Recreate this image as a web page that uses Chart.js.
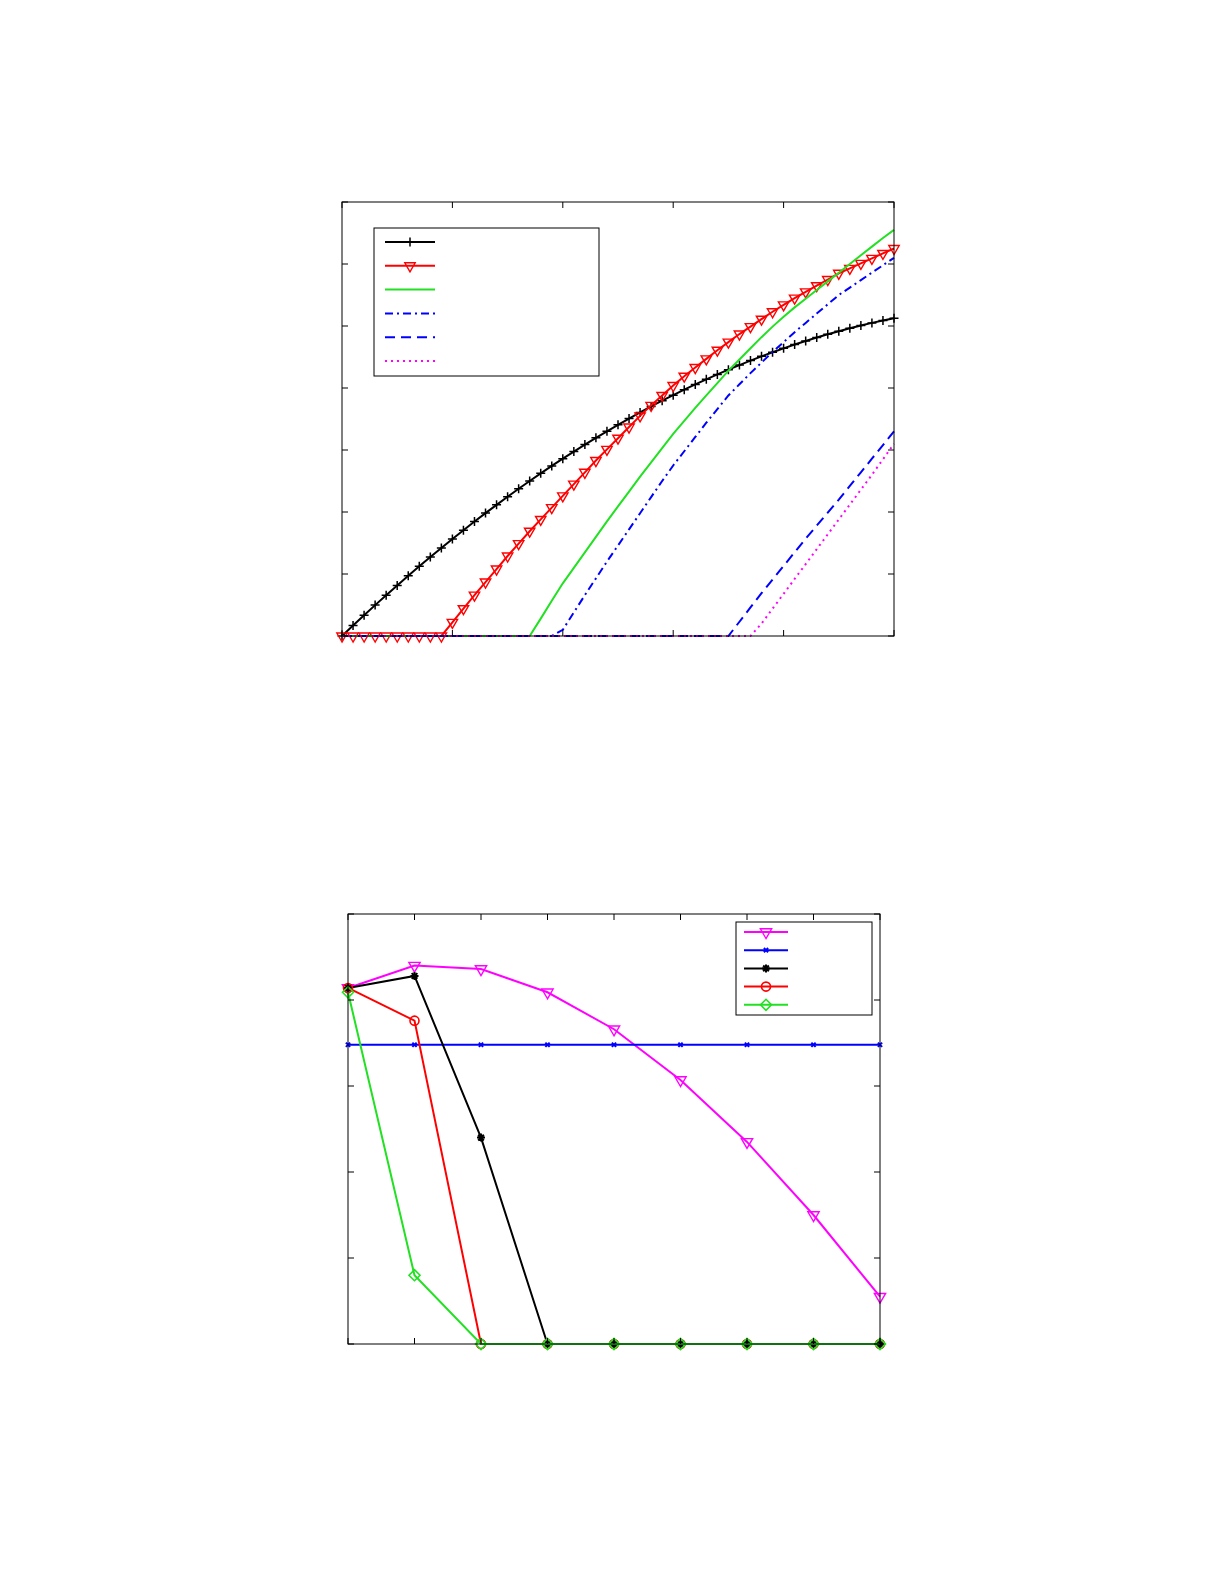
<!DOCTYPE html>
<html><head><meta charset="utf-8">
<script src="https://cdn.jsdelivr.net/npm/chart.js@4"></script>
<style>body{margin:0;background:#fff;width:1225px;height:1585px;overflow:hidden}canvas{position:absolute;left:0}</style>
</head><body>
<div style="position:absolute;left:0;top:0;width:1225px;height:790px"><canvas id="c1"></canvas></div>
<div style="position:absolute;left:0;top:790px;width:1225px;height:795px"><canvas id="c2"></canvas></div>
<script>
// ---- Chart 1 data ----
const x1 = [0,0.1,0.2,0.3,0.4,0.5,0.6,0.7,0.8,0.9,1.0,1.1,1.2,1.3,1.4,1.5,1.6,1.7,1.8,1.9,2.0,2.1,2.2,2.3,2.4,2.5,2.6,2.7,2.8,2.9,3.0,3.1,3.2,3.3,3.4,3.5,3.6,3.7,3.8,3.9,4.0,4.1,4.2,4.3,4.4,4.5,4.6,4.7,4.8,4.9,5.0];
const blackPlus = [0,0.169,0.335,0.498,0.658,0.816,0.971,1.124,1.274,1.421,1.565,1.707,1.846,1.982,2.115,2.246,2.374,2.5,2.623,2.743,2.86,2.975,3.087,3.196,3.302,3.406,3.507,3.606,3.702,3.795,3.885,3.973,4.058,4.14,4.219,4.296,4.37,4.442,4.511,4.577,4.64,4.701,4.759,4.814,4.866,4.916,4.963,5.008,5.05,5.089,5.125];
const redTri = [0,0,0,0,0,0,0,0,0,0,0.22,0.44,0.66,0.87,1.08,1.29,1.49,1.69,1.88,2.07,2.26,2.45,2.64,2.83,3.01,3.19,3.37,3.55,3.72,3.88,4.04,4.19,4.33,4.47,4.61,4.74,4.87,4.99,5.11,5.23,5.34,5.45,5.55,5.65,5.75,5.85,5.93,6.01,6.09,6.17,6.25];
const greenSolid = [0,0,0,0,0,0,0,0,0,0,0,0,0,0,0,0,0,0,0.28,0.57,0.85,1.1,1.35,1.6,1.85,2.09,2.33,2.57,2.8,3.03,3.26,3.47,3.68,3.88,4.08,4.28,4.46,4.64,4.82,4.99,5.15,5.3,5.44,5.58,5.72,5.86,6.0,6.14,6.28,6.42,6.55];
const blueDashDot = [0,0,0,0,0,0,0,0,0,0,0,0,0,0,0,0,0,0,0,0,0.1,0.38,0.66,0.93,1.2,1.46,1.72,1.98,2.24,2.5,2.75,2.98,3.21,3.44,3.66,3.88,4.06,4.24,4.41,4.58,4.74,4.9,5.05,5.2,5.35,5.5,5.62,5.74,5.86,5.98,6.1];
const blueDash = [0,0,0,0,0,0,0,0,0,0,0,0,0,0,0,0,0,0,0,0,0,0,0,0,0,0,0,0,0,0,0,0,0,0,0,0,0.23,0.46,0.69,0.91,1.13,1.35,1.57,1.78,1.99,2.2,2.42,2.64,2.86,3.08,3.3];
const magentaDot = [0,0,0,0,0,0,0,0,0,0,0,0,0,0,0,0,0,0,0,0,0,0,0,0,0,0,0,0,0,0,0,0,0,0,0,0,0,0,0.2,0.44,0.68,0.92,1.16,1.4,1.64,1.88,2.12,2.36,2.6,2.85,3.1];
const xTicks1 = [0,1,2,3,4,5];
const yTicks1 = [0,1,2,3,4,5,6,7];

// ---- Chart 2 data ----
const x2 = [0,1,2,3,4,5,6,7,8];
const magTri2 = [4.14,4.40,4.36,4.09,3.66,3.07,2.35,1.50,0.55];
const blueX2 = [3.48,3.48,3.48,3.48,3.48,3.48,3.48,3.48,3.48];
const blackStar2 = [4.14,4.28,2.40,0,0,0,0,0,0];
const redCirc2 = [4.14,3.76,0,0,0,0,0,0,0];
const greenDia2 = [4.09,0.80,0,0,0,0,0,0,0];
const xTicks2 = [0,1,2,3,4,5,6,7,8];
const yTicks2 = [0,1,2,3,4,5];

const pts = (xs, ys) => xs.map((x, i) => ({x, y: ys[i]}));

function ds(data, color, o) {
  return Object.assign({data, borderColor: color, backgroundColor: 'transparent', pointBorderColor: color,
    pointBackgroundColor: 'transparent', borderWidth: 2, pointRadius: 0, pointBorderWidth: 1.4,
    tension: 0, clip: false}, o);
}

function framePlugin(xt, yt, L) {
  return {
    id: 'frame',
    afterDatasetsDraw(chart) {
      const {ctx, chartArea: a, scales} = chart;
      ctx.save();
      ctx.strokeStyle = '#000'; ctx.lineWidth = 1; ctx.setLineDash([]);
      ctx.strokeRect(a.left, a.top, a.right - a.left, a.bottom - a.top);
      ctx.beginPath();
      xt.forEach(v => { const p = scales.x.getPixelForValue(v);
        ctx.moveTo(p, a.bottom); ctx.lineTo(p, a.bottom - 6); ctx.moveTo(p, a.top); ctx.lineTo(p, a.top + 6); });
      yt.forEach(v => { const p = scales.y.getPixelForValue(v);
        ctx.moveTo(a.left, p); ctx.lineTo(a.left + 6, p); ctx.moveTo(a.right, p); ctx.lineTo(a.right - 6, p); });
      ctx.stroke();
      ctx.fillStyle = '#fff';
      ctx.fillRect(L.x, L.y, L.w, L.h);
      ctx.strokeRect(L.x, L.y, L.w, L.h);
      chart.data.datasets.forEach((d, i) => {
        const y = L.y + L.first + i * L.step;
        ctx.save();
        ctx.strokeStyle = d.borderColor; ctx.lineWidth = d.borderWidth;
        ctx.setLineDash(d.borderDash || []);
        ctx.beginPath(); ctx.moveTo(L.x + L.l0, y); ctx.lineTo(L.x + L.l1, y); ctx.stroke();
        ctx.setLineDash([]);
        if (d.pointRadius > 0) {
          ctx.strokeStyle = d.pointBorderColor; ctx.fillStyle = 'transparent';
          ctx.lineWidth = d.pointBorderWidth;
          Chart.helpers.drawPoint(ctx, {pointStyle: d.pointStyle, rotation: d.pointRotation || 0,
            radius: d.pointRadius, borderWidth: d.pointBorderWidth}, L.x + (L.l0 + L.l1) / 2, y);
        }
        ctx.restore();
      });
      ctx.restore();
    }
  };
}

function baseOpts(xmin, xmax, ymin, ymax, pad) {
  return {
    responsive: true, maintainAspectRatio: false, animation: false,
    layout: {padding: pad},
    plugins: {legend: {display: false}, tooltip: {enabled: false}},
    scales: {
      x: {type: 'linear', min: xmin, max: xmax, display: false},
      y: {type: 'linear', min: ymin, max: ymax, display: false}
    }
  };
}

new Chart(document.getElementById('c1'), {
  type: 'line',
  data: {datasets: [
    ds(pts(x1, blackPlus), '#000000', {pointRadius: 4.5, pointStyle: 'cross', pointBorderWidth: 1.5, order: 6}),
    ds(pts(x1, redTri), '#ff0000', {pointRadius: 6, pointStyle: 'triangle', pointRotation: 180, pointBorderWidth: 1.4, order: 5}),
    ds(pts(x1, greenSolid), '#22e022', {order: 4}),
    ds(pts(x1, blueDashDot), '#0000ff', {borderDash: [8, 4, 2, 4], order: 3}),
    ds(pts(x1, blueDash), '#0000ff', {borderDash: [10, 6], order: 2}),
    ds(pts(x1, magentaDot), '#ff00ff', {borderDash: [2, 4], order: 1})
  ]},
  options: baseOpts(0, 5, 0, 7, {left: 342, right: 331, top: 202, bottom: 154}),
  plugins: [framePlugin(xTicks1, yTicks1, {x: 374, y: 228, w: 225, h: 148, first: 14, step: 23.8, l0: 11, l1: 61})]
});

new Chart(document.getElementById('c2'), {
  type: 'line',
  data: {datasets: [
    ds(pts(x2, magTri2), '#ff00ff', {pointRadius: 6.5, pointStyle: 'triangle', pointRotation: 180, order: 5}),
    ds(pts(x2, blueX2), '#0000ff', {pointRadius: 3, pointStyle: 'crossRot', pointBorderWidth: 2, order: 4}),
    ds(pts(x2, blackStar2), '#000000', {pointRadius: 4, pointStyle: 'star', pointBorderWidth: 2, order: 3}),
    ds(pts(x2, redCirc2), '#ff0000', {pointRadius: 4.5, pointStyle: 'circle', pointBorderWidth: 1.6, order: 2}),
    ds(pts(x2, greenDia2), '#22e022', {pointRadius: 5.5, pointStyle: 'rectRot', pointBorderWidth: 1.6, order: 1})
  ]},
  options: baseOpts(0, 8, 0, 5, {left: 348, right: 345, top: 124, bottom: 241}),
  plugins: [framePlugin(xTicks2, yTicks2, {x: 736, y: 132, w: 136, h: 93, first: 10, step: 18.2, l0: 8, l1: 52})]
});
</script>
</body></html>
